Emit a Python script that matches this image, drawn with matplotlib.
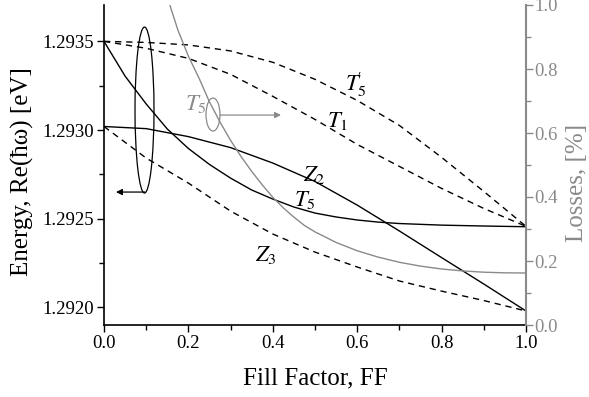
import matplotlib
matplotlib.use("Agg")
import matplotlib.pyplot as plt
from matplotlib.patches import Ellipse
from matplotlib.ticker import MultipleLocator, FormatStrFormatter

plt.rcParams['font.family'] = ['Liberation Serif', 'DejaVu Serif']
plt.rcParams['mathtext.fontset'] = 'stix'

# ---- data ----
ff = [0.0, 0.1, 0.2, 0.3, 0.4, 0.5, 0.6, 0.7, 0.8, 0.9, 1.0]

t5p = [1.293500, 1.293494, 1.293480, 1.293446, 1.293382, 1.293286,
       1.293167, 1.293026, 1.292846, 1.292654, 1.292457]
t1 = [1.293500, 1.293461, 1.293404, 1.293314, 1.293190, 1.293060,
      1.292919, 1.292795, 1.292671, 1.292558, 1.292457]
z3 = [1.293020, 1.292842, 1.292701, 1.292543, 1.292414, 1.292312,
      1.292228, 1.292149, 1.292092, 1.292039, 1.291980]
z2 = [1.293020, 1.293008, 1.292963, 1.292901, 1.292814, 1.292710,
      1.292577, 1.292431, 1.292281, 1.292132, 1.291980]

ff_t5 = [0.0, 0.05, 0.1, 0.15, 0.2, 0.25, 0.3, 0.35, 0.4, 0.45, 0.5,
         0.55, 0.6, 0.65, 0.7, 0.8, 0.9, 1.0]
t5 = [1.293500, 1.293304, 1.293147, 1.293006, 1.292896, 1.292806,
      1.292729, 1.292662, 1.292611, 1.292566, 1.292532, 1.292510,
      1.292493, 1.292481, 1.292473, 1.292464, 1.292459, 1.292455]

ff_loss = [0.13, 0.156, 0.175, 0.20, 0.225, 0.25, 0.275, 0.30, 0.325, 0.35,
           0.375, 0.40, 0.425, 0.45, 0.475, 0.50, 0.55, 0.60, 0.65, 0.70,
           0.75, 0.80, 0.85, 0.90, 0.95, 1.0]
loss = [1.11, 1.00, 0.922, 0.840, 0.772, 0.697, 0.634, 0.577, 0.526, 0.480,
        0.438, 0.399, 0.366, 0.337, 0.311, 0.291, 0.258, 0.232, 0.212, 0.196,
        0.184, 0.175, 0.169, 0.165, 0.163, 0.1625]

W, H = 589, 397
fig = plt.figure(figsize=(W / 100, H / 100), dpi=100)
L, R, B, T = 104, 526, 325, 5
ax = fig.add_axes([L / W, 1 - B / H, (R - L) / W, (B - T) / H])
ax2 = ax.twinx()

gray = '#8a8a8a'
lw = 1.0
dash = dict(linestyle=(0, (4.5, 3.5)))
ax.plot(ff, t5p, color='black', lw=lw, **dash)
ax.plot(ff, t1, color='black', lw=lw, **dash)
ax.plot(ff, z3, color='black', lw=lw, **dash)
ax.plot(ff, z2, color='black', lw=lw)
ax.plot(ff_t5, t5, color='black', lw=lw)
ax2.plot(ff_loss, loss, color=gray, lw=lw)

ax.set_xlim(0, 1.0)
ax.set_ylim(1.291901, 1.293705)
ax2.set_ylim(0, 1.0)

# spines
for a in (ax, ax2):
    a.spines['top'].set_visible(False)
ax.spines['right'].set_visible(False)
ax2.spines['left'].set_visible(False)
ax2.spines['bottom'].set_visible(False)
ax.spines['left'].set_linewidth(1.2)
ax.spines['bottom'].set_linewidth(1.2)
ax2.spines['right'].set_color(gray)
ax2.spines['right'].set_linewidth(1.5)

ax.xaxis.set_major_locator(MultipleLocator(0.2))
ax.xaxis.set_minor_locator(MultipleLocator(0.1))
ax.yaxis.set_major_locator(MultipleLocator(0.0005))
ax.yaxis.set_minor_locator(MultipleLocator(0.00025))
ax.yaxis.set_major_formatter(FormatStrFormatter('%.4f'))
ax.xaxis.set_major_formatter(FormatStrFormatter('%.1f'))
ax2.yaxis.set_major_locator(MultipleLocator(0.2))
ax2.yaxis.set_minor_locator(MultipleLocator(0.1))
ax2.yaxis.set_major_formatter(FormatStrFormatter('%.1f'))

ax.tick_params(axis='both', which='major', direction='out', length=5, width=1.0,
               labelsize=13.5, pad=2)
ax.tick_params(axis='both', which='minor', direction='out', length=3.5, width=1.0)
ax.tick_params(axis='x', which='both', top=False)
ax.tick_params(axis='y', which='both', right=False)
ax2.tick_params(axis='y', which='major', direction='out', length=5, width=1.0,
                labelsize=13.5, pad=1, color=gray, labelcolor=gray)
ax2.tick_params(axis='y', which='minor', direction='out', length=3.5, width=1.0,
                color=gray)

ax.set_xlabel('Fill Factor, FF', fontsize=18)
ax.xaxis.label.set_va('center')
ax.xaxis.set_label_coords(0.5, -0.166)
ax.set_ylabel('Energy, Re(ħω) [eV]', fontsize=18)
ax.yaxis.label.set_va('center')
ax.yaxis.set_label_coords(-0.194, 0.481)
ax2.set_ylabel('Losses, [%]', fontsize=18, color=gray)
ax2.yaxis.label.set_va('center')
ax2.yaxis.set_label_coords(1.121, 0.444)


def px(xp, yp):
    """pixel position -> data coords of main axis"""
    x = (xp - L) / (R - L)
    y = 1.2930 - (yp - 130) / 88.7 * 0.0005
    return x, y


fs = 16.5
for txt, (xp, yp), col in [(r"$T^{\!\!\prime}_5$", (356, 84), 'black'),
                           (r"$T_1$", (338, 121), 'black'),
                           (r"$Z_2$", (314, 175), 'black'),
                           (r"$T_5$", (305, 200), 'black'),
                           (r"$Z_3$", (266, 255), 'black'),
                           (r"$T_5$", (196, 104), gray)]:
    x, y = px(xp, yp)
    ax.text(x, y, txt, fontsize=fs, color=col, ha='center', va='center')

# black ellipse + arrow
cx, cy = px(144.5, 110)
ax.add_patch(Ellipse((cx, cy), 19 / 422, 166 / 88.7 * 0.0005, fill=False,
                     edgecolor='black', lw=0.9))
x0, y0 = px(145, 192)
x1, y1 = px(116, 192)
ax.annotate('', xy=(x1, y1), xytext=(x0, y0),
            arrowprops=dict(arrowstyle='-|>', color='black', lw=0.9,
                            mutation_scale=9, shrinkA=0, shrinkB=0))

# gray ellipse + arrow
gx, gy = px(213, 114.5)
ax.add_patch(Ellipse((gx, gy), 14 / 422, 33 / 88.7 * 0.0005, fill=False,
                     edgecolor=gray, lw=0.9))
x0, y0 = px(220, 115)
x1, y1 = px(281, 115)
ax.annotate('', xy=(x1, y1), xytext=(x0, y0),
            arrowprops=dict(arrowstyle='-|>', color=gray, lw=0.9,
                            mutation_scale=9, shrinkA=0, shrinkB=0))

fig.savefig('out.png', dpi=100)
